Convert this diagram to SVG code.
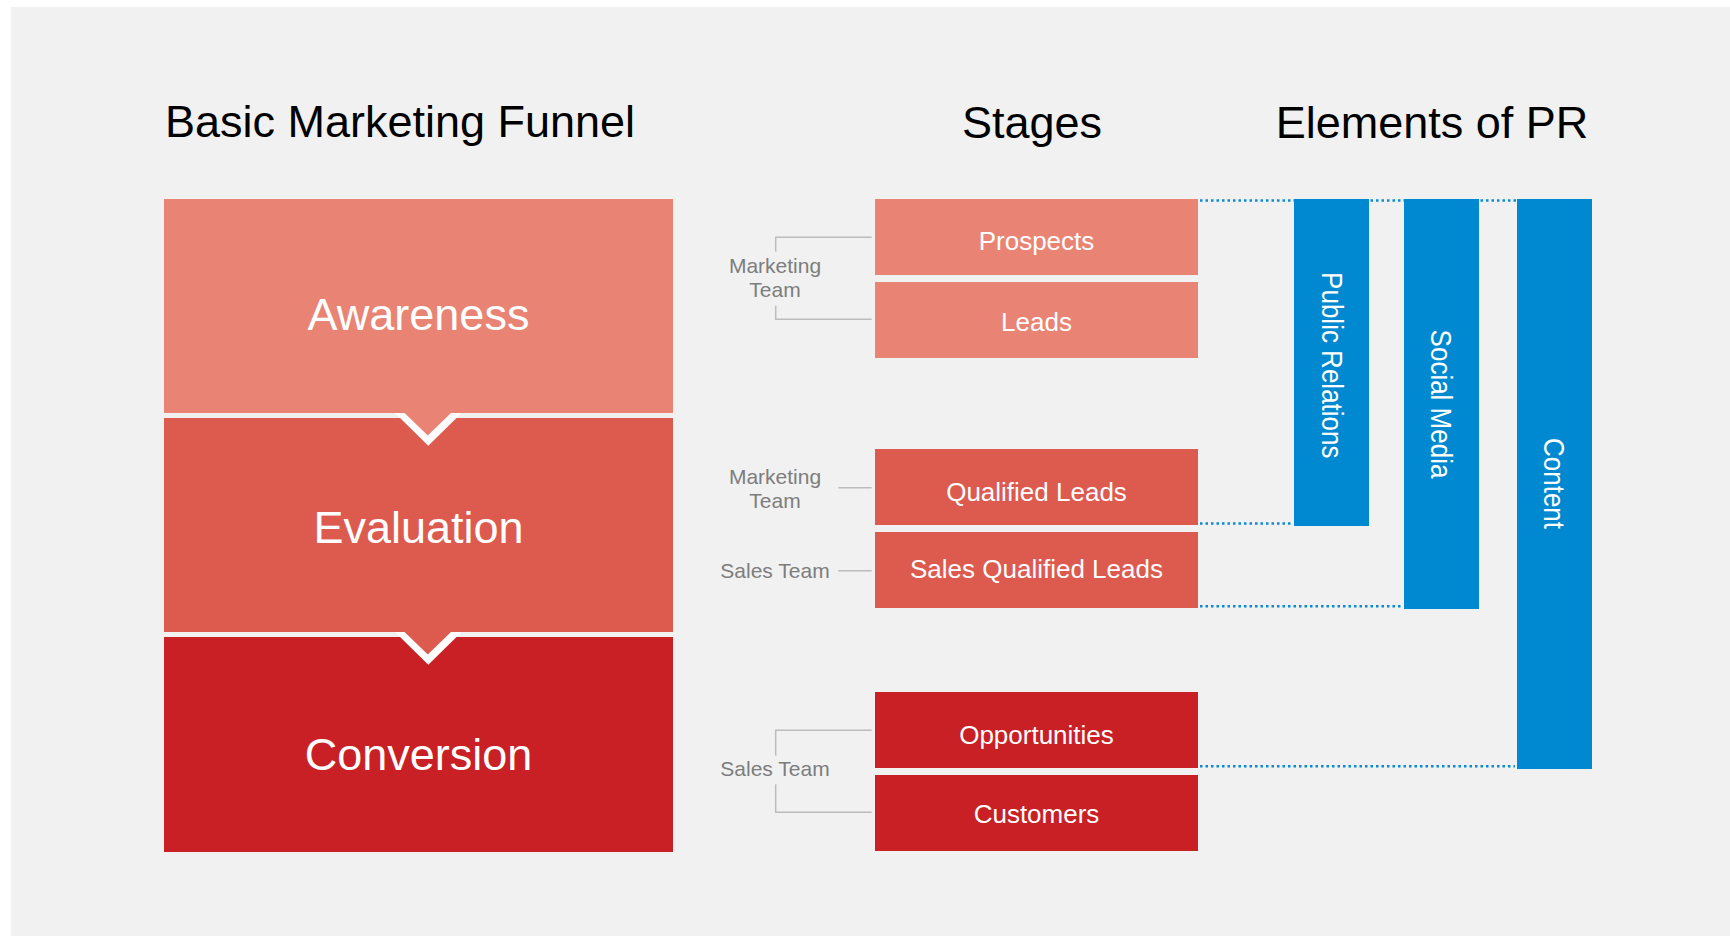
<svg xmlns="http://www.w3.org/2000/svg" width="1730" height="936" viewBox="0 0 1730 936">
  <style>
    .title { font-family: "Liberation Sans", Arial, sans-serif; font-size: 45px; fill: #000; text-anchor: middle; }
    .stage-big { font-family: "Liberation Sans", Arial, sans-serif; font-size: 45px; fill: #fff; text-anchor: middle; }
    .stage { font-family: "Liberation Sans", Arial, sans-serif; font-size: 26px; fill: #fff; text-anchor: middle; }
    .team { font-family: "Liberation Sans", Arial, sans-serif; font-size: 21px; fill: #7d7d7d; text-anchor: middle; }
    .pr { font-family: "Liberation Sans", Arial, sans-serif; font-size: 26px; fill: #fff; text-anchor: middle; }
    .c1 { fill: #e98475; }
    .c2 { fill: #dd5a4f; }
    .c3 { fill: #c92026; }
    .blue { fill: #0089d0; }
    .bracket { fill: none; stroke: #bcbcbc; stroke-width: 1.5; }
    .dots { fill: none; stroke: #0a8ad2; stroke-width: 2.5; stroke-dasharray: 2.5 3; }
  </style>

  <!-- page -->
  <rect x="0" y="0" width="1730" height="936" fill="#ffffff"/>
  <rect x="11" y="7" width="1719" height="929" fill="#f1f1f1"/>

  <!-- column headings -->
  <g id="headings">
    <text class="title" x="400" y="137">Basic Marketing Funnel</text>
    <text class="title" x="1032" y="138">Stages</text>
    <text class="title" x="1432" y="138">Elements of PR</text>
  </g>

  <!-- dotted guides from the stages to the PR bars -->
  <g id="connectors">
    <line class="dots" x1="1200" y1="200.5" x2="1517" y2="200.5"/>
    <line class="dots" x1="1200" y1="523.5" x2="1292" y2="523.5"/>
    <line class="dots" x1="1200" y1="606.3" x2="1402" y2="606.3"/>
    <line class="dots" x1="1200" y1="766.3" x2="1515" y2="766.3"/>
    <!-- team brackets -->
    <polyline class="bracket" points="775.7,251.7 775.7,237.3 871.7,237.3"/>
    <polyline class="bracket" points="775.7,305.7 775.7,319.3 871.7,319.3"/>
    <line class="bracket" x1="838.3" y1="487.7" x2="871.7" y2="487.7"/>
    <line class="bracket" x1="838.3" y1="570.7" x2="871.7" y2="570.7"/>
    <polyline class="bracket" points="775.7,755.7 775.7,730.3 871.7,730.3"/>
    <polyline class="bracket" points="775.7,784.3 775.7,812.3 871.7,812.3"/>
  </g>

  <!-- funnel -->
  <g id="funnel-conversion">
    <rect class="c3" x="164" y="637" width="509" height="215"/>
    <text class="stage-big" x="418.5" y="769.5">Conversion</text>
  </g>
  <g id="funnel-evaluation">
    <rect class="c2" x="164" y="418" width="509" height="214"/>
    <text class="stage-big" x="418.5" y="543.3">Evaluation</text>
    <polygon fill="#ffffff" points="395,632 461.6,632 428.3,664.8"/>
    <polygon class="c2" points="403.5,631 452,631 427.8,654.5"/>
  </g>
  <g id="funnel-awareness">
    <rect class="c1" x="164" y="199" width="509" height="214"/>
    <text class="stage-big" x="418.5" y="330">Awareness</text>
    <polygon fill="#ffffff" points="395,413 461.6,413 428.3,445.8"/>
    <polygon class="c1" points="403.5,412 452,412 427.8,435.5"/>
  </g>

  <!-- stages -->
  <g id="stage-prospects">
    <rect class="c1" x="875" y="199" width="323" height="76"/>
    <text class="stage" x="1036.5" y="250">Prospects</text>
  </g>
  <g id="stage-leads">
    <rect class="c1" x="875" y="282" width="323" height="76"/>
    <text class="stage" x="1036.5" y="331">Leads</text>
  </g>
  <g id="stage-qualified-leads">
    <rect class="c2" x="875" y="449" width="323" height="76"/>
    <text class="stage" x="1036.5" y="500.7">Qualified Leads</text>
  </g>
  <g id="stage-sales-qualified-leads">
    <rect class="c2" x="875" y="532" width="323" height="76"/>
    <text class="stage" x="1036.5" y="578">Sales Qualified Leads</text>
  </g>
  <g id="stage-opportunities">
    <rect class="c3" x="875" y="692" width="323" height="76"/>
    <text class="stage" x="1036.5" y="744">Opportunities</text>
  </g>
  <g id="stage-customers">
    <rect class="c3" x="875" y="775" width="323" height="76"/>
    <text class="stage" x="1036.5" y="823.3">Customers</text>
  </g>

  <!-- team labels -->
  <g id="team-marketing-1">
    <text class="team" x="775" y="273">Marketing</text>
    <text class="team" x="775" y="297">Team</text>
  </g>
  <g id="team-marketing-2">
    <text class="team" x="775" y="484">Marketing</text>
    <text class="team" x="775" y="508.3">Team</text>
  </g>
  <g id="team-sales-1">
    <text class="team" x="775" y="578.3">Sales Team</text>
  </g>
  <g id="team-sales-2">
    <text class="team" x="775" y="776">Sales Team</text>
  </g>

  <!-- elements of PR -->
  <g id="pr-public-relations">
    <rect class="blue" x="1294" y="199" width="75" height="327"/>
    <text class="pr" transform="translate(1331.5,365.3) rotate(90) scale(1,1.13)" y="8.3">Public Relations</text>
  </g>
  <g id="pr-social-media">
    <rect class="blue" x="1404" y="199" width="75" height="410"/>
    <text class="pr" transform="translate(1440,404) rotate(90) scale(1,1.13)" y="8.3">Social Media</text>
  </g>
  <g id="pr-content">
    <rect class="blue" x="1517" y="199" width="75" height="570"/>
    <text class="pr" transform="translate(1553,483.5) rotate(90) scale(1,1.13)" y="8.3">Content</text>
  </g>
</svg>
